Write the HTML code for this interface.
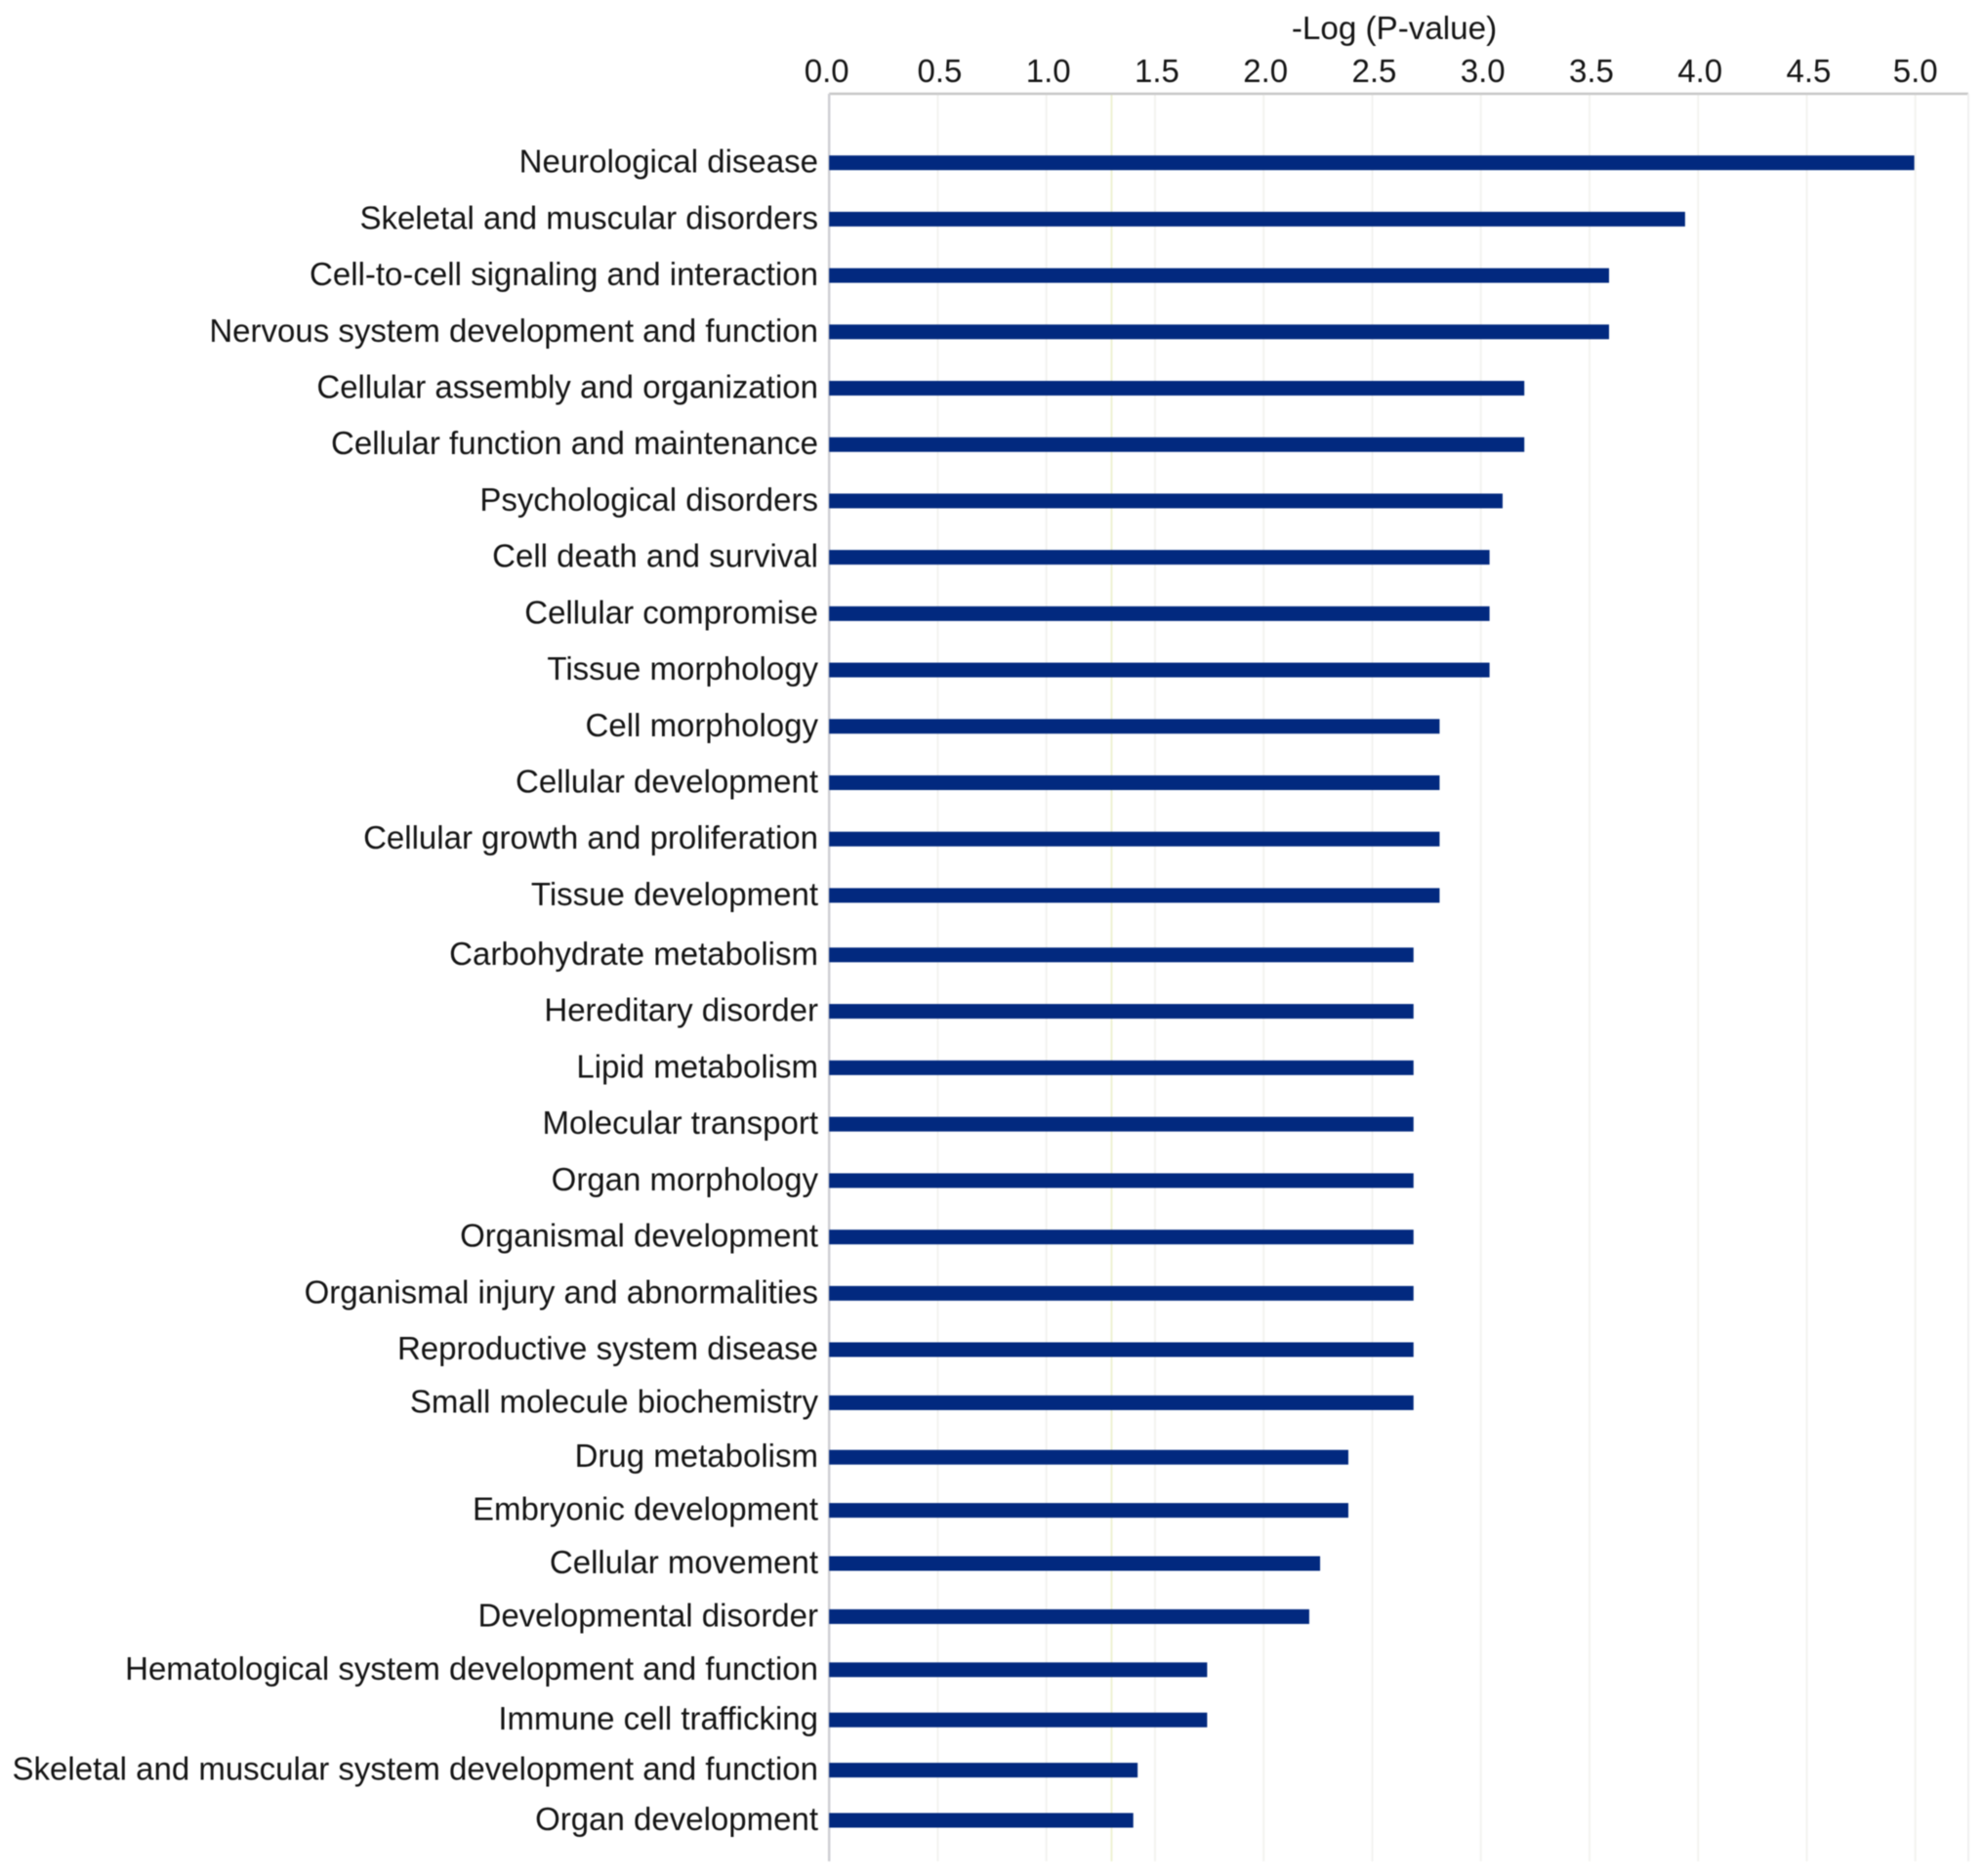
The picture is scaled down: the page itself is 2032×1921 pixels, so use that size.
<!DOCTYPE html>
<html>
<head>
<meta charset="utf-8">
<title>-Log (P-value) bar chart</title>
<style>
html,body{margin:0;padding:0;background:#fff;}
svg{display:block;filter:blur(0.6px);}
text{font-family:"Liberation Sans",sans-serif;fill:#141414;}
</style>
</head>
<body>
<svg id="chart" xmlns="http://www.w3.org/2000/svg" width="2032" height="1921" viewBox="0 0 2032 1921">
<rect x="0" y="0" width="2032" height="1921" fill="#fff"/>
<text id="axis-title" x="1428" y="40" font-size="33.2" text-anchor="middle">-Log (P-value)</text>
</svg>
<script>
const categories = [
"Neurological disease","Skeletal and muscular disorders","Cell-to-cell signaling and interaction",
"Nervous system development and function","Cellular assembly and organization","Cellular function and maintenance",
"Psychological disorders","Cell death and survival","Cellular compromise","Tissue morphology","Cell morphology",
"Cellular development","Cellular growth and proliferation","Tissue development","Carbohydrate metabolism",
"Hereditary disorder","Lipid metabolism","Molecular transport","Organ morphology","Organismal development",
"Organismal injury and abnormalities","Reproductive system disease","Small molecule biochemistry","Drug metabolism",
"Embryonic development","Cellular movement","Developmental disorder","Hematological system development and function",
"Immune cell trafficking","Skeletal and muscular system development and function","Organ development"];
const logPValues = [4.995,3.94,3.59,3.59,3.2,3.2,3.1,3.04,3.04,3.04,2.81,2.81,2.81,2.81,2.69,2.69,2.69,2.69,2.69,2.69,2.69,2.69,2.69,2.39,2.39,2.26,2.21,1.74,1.74,1.42,1.4];
const tickLabels = ["0.0","0.5","1.0","1.5","2.0","2.5","3.0","3.5","4.0","4.5","5.0"];
const thresholdValue = 1.3;

const svg = document.getElementById('chart');
const NS = 'http://www.w3.org/2000/svg';

function xScale(v){ return 849.2 + v * 222.5; }
function yScale(i){
  const rowKnots = [0,13,14,19,21,22,23,27,30];
  const pixelKnots = [166.7,916.9,977.8,1266.7,1382,1436.4,1492.2,1709.8,1864];
  for (let k = 0; k < rowKnots.length - 1; k++) {
    if (i <= rowKnots[k + 1]) {
      const t = (i - rowKnots[k]) / (rowKnots[k + 1] - rowKnots[k]);
      return pixelKnots[k] + t * (pixelKnots[k + 1] - pixelKnots[k]);
    }
  }
  return pixelKnots[pixelKnots.length - 1];
}
function make(tag, attrs){
  const el = document.createElementNS(NS, tag);
  for (const key in attrs) el.setAttribute(key, attrs[key]);
  svg.appendChild(el);
  return el;
}

const plotTop = 96, plotBottom = 1906, plotRight = 2016;

tickLabels.forEach(function(label){
  const v = parseFloat(label);
  const grid = make('line', {x1:xScale(v), x2:xScale(v), y1:plotTop, y2:plotBottom, stroke:'#f3f3f0', 'stroke-width':2});
  
  
  const text = make('text', {x:xScale(v) + (v === 0 ? -2.5 : (v === 5 ? 0 : 2)), y:84, 'font-size':33, 'text-anchor':'middle'});
  text.textContent = label;
  
  
});

const threshold = make('line', {x1:xScale(thresholdValue), x2:xScale(thresholdValue), y1:plotTop, y2:plotBottom, stroke:'#eef2d2', 'stroke-width':2});



const topAxis = make('line', {x1:xScale(0), x2:plotRight, y1:plotTop, y2:plotTop, stroke:'#c8c8c8', 'stroke-width':2.5});



const leftAxis = make('line', {x1:xScale(0), x2:xScale(0), y1:plotTop, y2:plotBottom, stroke:'#cfcfd4', 'stroke-width':2.5});



const rightEdge = make('line', {x1:plotRight, x2:plotRight, y1:plotTop, y2:plotBottom, stroke:'#f0f0f0', 'stroke-width':2});



categories.forEach(function(name, i){
  const bar = make('rect', {x:xScale(0), y:yScale(i) - 7.5, width:xScale(logPValues[i]) - xScale(0), height:15, fill:'#02297f'});
  
  
  const label = make('text', {x:838, y:yScale(i) + 10, 'font-size':33, 'text-anchor':'end'});
  label.textContent = name;
  
  
});
</script>
</body>
</html>
